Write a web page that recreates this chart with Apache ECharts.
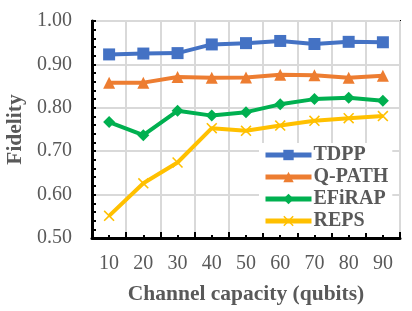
<!DOCTYPE html>
<html><head><meta charset="utf-8">
<script src="https://cdn.jsdelivr.net/npm/echarts@6/dist/echarts.min.js"></script>
<style>html,body{margin:0;padding:0;background:#fff}#c{width:412px;height:311px}</style>
</head><body><div id="c"></div>
<script>
var categories = ['10','20','30','40','50','60','70','80','90'];
var tdpp   = [0.923, 0.925, 0.926, 0.946, 0.949, 0.954, 0.947, 0.952, 0.951];
var qpath  = [0.858, 0.858, 0.871, 0.869, 0.870, 0.876, 0.875, 0.869, 0.874];
var efirap = [0.767, 0.737, 0.793, 0.782, 0.790, 0.808, 0.820, 0.823, 0.816];
var reps   = [0.551, 0.626, 0.674, 0.753, 0.747, 0.759, 0.770, 0.776, 0.781];
var seriesNames = ['TDPP','Q-PATH','EFiRAP','REPS'];
var colors = ['#4472C4','#ED7D31','#00B050','#FFC000'];
var xPath = 'path://M1,0L5,4L9,0L10,1L6,5L10,9L9,10L5,6L1,10L0,9L4,5L0,1Z';
var font = 'Liberation Serif, Times New Roman, serif';
var chart = echarts.init(document.getElementById('c'));
function mk(name, data, color, symbol, size) {
  return {name:name, type:'line', data:data, xAxisIndex:0, yAxisIndex:0,
    symbol:symbol, symbolSize:size, showSymbol:true,
    lineStyle:{color:color, width:4}, itemStyle:{color:color, borderWidth:0}};
}
chart.setOption({
  animation:false,
  grid:{left:92, right:12, top:21, bottom:73, show:true, borderColor:'#000', borderWidth:2,
    containLabel:false, outerBoundsMode:'none'},
  legend:{orient:'vertical', left:259, top:143, itemWidth:46, itemHeight:13, itemGap:2,
    padding:[2,4,2,4], backgroundColor:'#fff',
    lineStyle:{width:5},
    textStyle:{fontFamily:font, fontSize:20, fontWeight:'bold', color:'#595959', padding:[0,0,0,-3], lineHeight:20},
    data:seriesNames},
  xAxis:[{type:'category', data:categories, boundaryGap:true,
    name:'Channel capacity (qubits)', nameLocation:'middle', nameGap:45,
    nameTextStyle:{fontFamily:font, fontSize:21.5, fontWeight:'bold', color:'#595959'},
    axisLine:{lineStyle:{color:'#000', width:3}},
    axisTick:{show:true, inside:true, interval:0, length:6, lineStyle:{color:'#000', width:2}},
    axisLabel:{fontFamily:font, fontSize:20, color:'#595959', margin:16},
    splitLine:{show:true, interval:0, lineStyle:{color:'#D9D9D9', width:2}}},
   {type:'value', min:0, max:18, interval:1, position:'bottom', show:true,
    axisLine:{show:false}, axisLabel:{show:false}, splitLine:{show:false},
    axisTick:{show:true, inside:true, length:3, lineStyle:{color:'#000', width:2}}}],
  yAxis:{type:'value', min:0.5, max:1.0, interval:0.1,
    name:'Fidelity', nameLocation:'middle', nameGap:62, nameRotate:90,
    nameTextStyle:{fontFamily:font, fontSize:21.5, fontWeight:'bold', color:'#595959'},
    axisLine:{show:true, lineStyle:{color:'#000', width:3}},
    axisTick:{show:true, inside:true, length:4, lineStyle:{color:'#000', width:2}},
    minorTick:{show:true, splitNumber:5, length:4, lineStyle:{color:'#000', width:2}},
    axisLabel:{fontFamily:font, fontSize:20, color:'#595959', margin:20,
      formatter:function(v){return v.toFixed(2);}},
    splitLine:{show:true, lineStyle:{color:'#D9D9D9', width:2}}},
  series:[
    mk('TDPP', tdpp, colors[0], 'rect', 12),
    mk('Q-PATH', qpath, colors[1], 'triangle', 12),
    mk('EFiRAP', efirap, colors[2], 'diamond', 12),
    mk('REPS', reps, colors[3], xPath, 11)
  ]
});
</script></body></html>
